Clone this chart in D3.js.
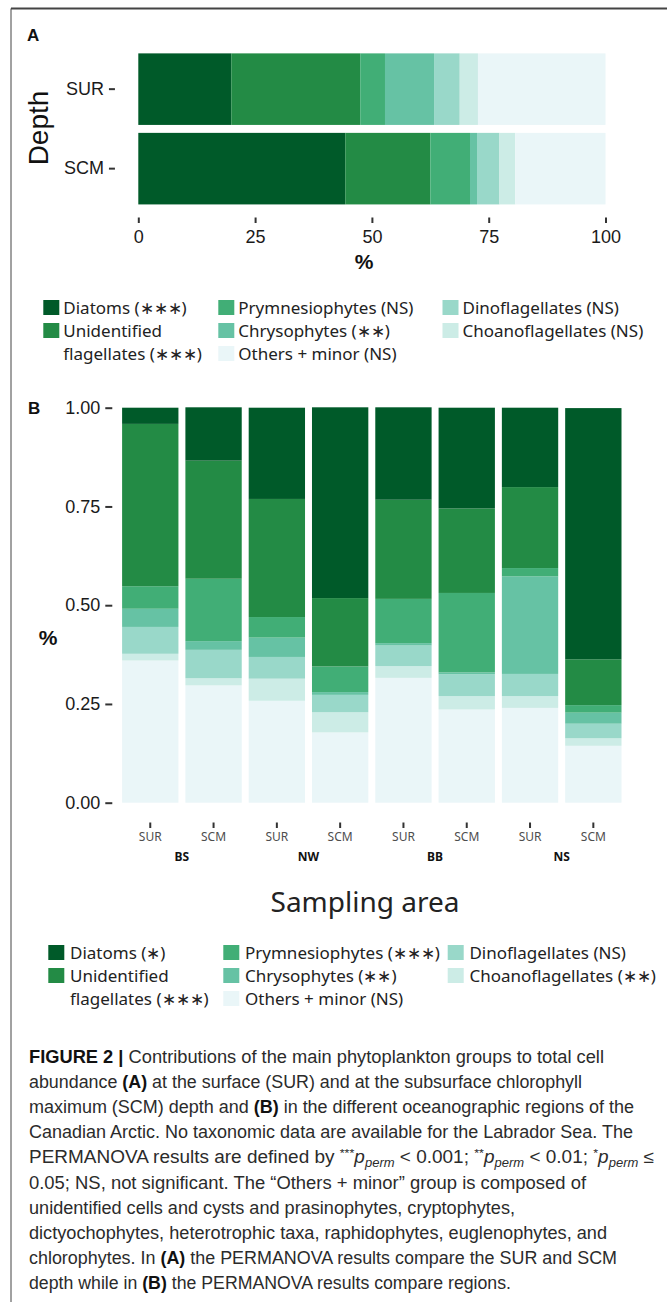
<!DOCTYPE html>
<html><head><meta charset="utf-8">
<script src="https://cdn.jsdelivr.net/npm/d3@7"></script>
<style>
html,body{margin:0;padding:0;background:#fff;}
svg{display:block;}
</style></head>
<body>
<svg id="c" width="667" height="1302"></svg>
<script>
// ---------- DATA ----------
const groups = ["Diatoms","Unidentified flagellates","Prymnesiophytes","Chrysophytes","Dinoflagellates","Choanoflagellates","Others + minor"];
const groupColors = ["#005a29","#238b45","#41ae76","#66c2a4","#99d8c9","#ccece6","#eaf6f8"];

// Panel A (percent of cells), categories by depth
const depthCats = ["SUR","SCM"];
const aDiatoms  = [19.9, 44.3];
const aUnid     = [27.6, 18.2];
const aPrym     = [5.3, 8.5];
const aChryso   = [10.5, 1.5];
const aDino     = [5.5, 4.8];
const aChoano   = [3.9, 3.4];
const aOthers   = [27.3, 19.3];
const aTicks    = [0, 25, 50, 75, 100];

// Panel B (fraction of cells), categories by region x depth
const regions   = ["BS","NW","BB","NS"];
const bDepths   = ["SUR","SCM","SUR","SCM","SUR","SCM","SUR","SCM"];
const bRegion   = ["BS","BS","NW","NW","BB","BB","NS","NS"];
const bDiatoms  = [0.041,0.135,0.231,0.483,0.234,0.255,0.201,0.636];
const bUnid     = [0.411,0.299,0.299,0.173,0.251,0.214,0.205,0.116];
const bPrym     = [0.057,0.158,0.052,0.065,0.112,0.201,0.021,0.019];
const bChryso   = [0.046,0.022,0.049,0.007,0.006,0.005,0.247,0.028];
const bDino     = [0.068,0.072,0.055,0.044,0.052,0.055,0.056,0.037];
const bChoano   = [0.017,0.018,0.056,0.051,0.030,0.034,0.030,0.019];
const bOthers   = [0.360,0.297,0.258,0.178,0.316,0.236,0.240,0.144];
const bTicks    = [0, 0.25, 0.5, 0.75, 1];

const ST = "\u2217";
const legendA = ["Diatoms ("+ST+ST+ST+")", "Unidentified|flagellates ("+ST+ST+ST+")", "Prymnesiophytes (NS)", "Chrysophytes ("+ST+ST+")", "Others + minor (NS)", "Dinoflagellates (NS)", "Choanoflagellates (NS)"];
const legendB = ["Diatoms ("+ST+")", "Unidentified|flagellates ("+ST+ST+ST+")", "Prymnesiophytes ("+ST+ST+ST+")", "Chrysophytes ("+ST+ST+")", "Others + minor (NS)", "Dinoflagellates (NS)", "Choanoflagellates ("+ST+ST+")"];
const legendOrder = [0,1,2,3,6,4,5]; // group index for each legend entry
const legendColCounts = [2,3,2];

// ---------- DRAW ----------
const svg = d3.select("#c");
const AX = "'Liberation Sans', Arial, sans-serif";
const NS = "'Noto Sans', 'Open Sans', sans-serif";
svg.append("rect").attr("width",667).attr("height",1302).attr("fill","#fff");

// frame
svg.append("line").attr("x1",11).attr("x2",667).attr("y1",8.5).attr("y2",8.5).attr("stroke","#444").attr("stroke-width",2);
svg.append("line").attr("x1",11).attr("x2",11).attr("y1",8.5).attr("y2",1302).attr("stroke","#444").attr("stroke-width",1);

// ===== Panel A =====
const aSeries = [aDiatoms,aUnid,aPrym,aChryso,aDino,aChoano,aOthers];
const aRows = depthCats.map((d,i)=>{const o={cat:d}; groups.forEach((g,k)=>o[g]=aSeries[k][i]); return o;});
const aStack = d3.stack().keys(groups)(aRows);
const xA = d3.scaleLinear().domain([0,100]).range([138.3,605.5]);
const yA = d3.scaleBand().domain(depthCats).range([49.4,208.4]).paddingInner(0.1).paddingOuter(0.05);

svg.append("text").attr("x",27).attr("y",41).attr("font-family",AX).attr("font-weight","bold").attr("font-size",17).attr("fill","#111").text("A");

const gA = svg.append("g");
gA.selectAll("g.s").data(aStack).join("g").attr("class","s").attr("fill",(d,i)=>groupColors[i])
  .selectAll("rect").data(d=>d).join("rect")
  .attr("x",d=>xA(d[0])).attr("width",d=>xA(d[1])-xA(d[0]))
  .attr("y",d=>yA(d.data.cat)).attr("height",yA.bandwidth());

// y axis A
const panelLeftA = xA(-5);
const yAxA = svg.append("g").attr("transform",`translate(${panelLeftA},0)`)
  .call(d3.axisLeft(yA).tickSize(6).tickPadding(5));
yAxA.select(".domain").remove();
yAxA.selectAll(".tick line").attr("stroke","#333").attr("stroke-width",2);
yAxA.selectAll(".tick text").attr("font-family",AX).attr("font-size",18).attr("fill","#1a1a1a");

// x axis A
const xAxA = svg.append("g").attr("transform","translate(0,217.5)")
  .call(d3.axisBottom(xA).tickValues(aTicks).tickSize(5.5).tickPadding(7).tickFormat(d3.format("d")));
xAxA.select(".domain").remove();
xAxA.selectAll(".tick line").attr("stroke","#333").attr("stroke-width",2);
xAxA.selectAll(".tick text").attr("font-family",AX).attr("font-size",18).attr("fill","#1a1a1a");

svg.append("text").attr("x",364).attr("y",269).attr("text-anchor","middle").attr("font-family",AX).attr("font-weight","bold").attr("font-size",21).attr("fill","#111").text("%");
svg.append("text").attr("transform","translate(48,128) rotate(-90)").attr("text-anchor","middle").attr("font-family",AX).attr("font-size",28).attr("fill","#111").text("Depth");

// legends
function drawLegend(labels, cfg){
  let idx = 0;
  legendColCounts.forEach((cnt,c)=>{
    for(let r=0;r<cnt;r++){
      const k = legendOrder[idx];
      const lab = labels[idx];
      const baseY = cfg.y0 + r*cfg.step;
      svg.append("rect").attr("x",cfg.cols[c]).attr("y",baseY-cfg.sqOff).attr("width",16).attr("height",15).attr("fill",groupColors[k]);
      const lines = lab.split("|");
      lines.forEach((ln,j)=>{
        svg.append("text").attr("x",cfg.cols[c]+cfg.tx).attr("y",baseY + j*cfg.step)
          .attr("font-family",NS).attr("font-size",cfg.fs).attr("fill","#222").text(ln);
      });
      idx++;
    }
  });
}
drawLegend(legendA,{y0:314,step:23,cols:[43.3,218.3,442.5],tx:20,sqOff:14,fs:17});

// ===== Panel B =====
const bSeries = [bDiatoms,bUnid,bPrym,bChryso,bDino,bChoano,bOthers];
const bCats = bDepths.map((d,i)=>bRegion[i]+" "+d);
const bRows = bCats.map((c,i)=>{const o={cat:c}; groups.forEach((g,k)=>o[g]=bSeries[k][i]); return o;});
const bKeys = groups.slice().reverse();
const bStack = d3.stack().keys(bKeys)(bRows);
const xB = d3.scaleBand().domain(bCats).range([122.1,621.5]).paddingInner(0.11).paddingOuter(0);
const yB = d3.scaleLinear().domain([0,1]).range([802.7,407.7]);

svg.append("text").attr("x",28).attr("y",414).attr("font-family",AX).attr("font-weight","bold").attr("font-size",17).attr("fill","#111").text("B");

svg.append("g").selectAll("g.s").data(bStack).join("g").attr("class","s")
  .attr("fill",d=>groupColors[groups.indexOf(d.key)])
  .selectAll("rect").data(d=>d).join("rect")
  .attr("x",d=>xB(d.data.cat)).attr("width",xB.bandwidth())
  .attr("y",d=>yB(d[1])).attr("height",d=>yB(d[0])-yB(d[1]));

const panelLeftB = xB(bCats[0]) + xB.bandwidth()/2 - 0.6*xB.step();
const yAxB = svg.append("g").attr("transform",`translate(${panelLeftB},0)`)
  .call(d3.axisLeft(yB).tickValues(bTicks).tickSize(7).tickPadding(5).tickFormat(d3.format(".2f")));
yAxB.select(".domain").remove();
yAxB.selectAll(".tick line").attr("stroke","#333").attr("stroke-width",2);
yAxB.selectAll(".tick text").attr("font-family",AX).attr("font-size",18).attr("fill","#1a1a1a");

const xAxB = svg.append("g").attr("transform","translate(0,822.5)")
  .call(d3.axisBottom(xB).tickSize(5.5).tickPadding(4).tickFormat((d,i)=>bDepths[i]));
xAxB.select(".domain").remove();
xAxB.selectAll(".tick line").attr("stroke","#333").attr("stroke-width",2);
xAxB.selectAll(".tick text").attr("font-family",NS).attr("font-size",12).attr("fill","#4d4d4d");

regions.forEach(r=>{
  const cats = bCats.filter(c=>c.startsWith(r+" "));
  const cx = d3.mean(cats, c=>xB(c)+xB.bandwidth()/2);
  svg.append("text").attr("x",cx).attr("y",861).attr("text-anchor","middle").attr("font-family",NS).attr("font-weight","bold").attr("font-size",12).attr("fill","#111").text(r);
});

svg.append("text").attr("x",48).attr("y",645).attr("text-anchor","middle").attr("font-family",AX).attr("font-weight","bold").attr("font-size",21).attr("fill","#111").text("%");
svg.append("text").attr("x",365).attr("y",912).attr("text-anchor","middle").attr("font-family",NS).attr("font-size",28).attr("fill","#222").text("Sampling area");

drawLegend(legendB,{y0:959,step:23,cols:[48.3,223.3,447.7],tx:21.7,sqOff:14,fs:17});

// ===== Caption =====
const cap = svg.append("g").attr("font-family",AX).attr("font-size",17.5).attr("fill","#2b2b2b");
const capLines = [
  [["b","FIGURE 2 | "],["n","Contributions of the main phytoplankton groups to total cell"]],
  [["n","abundance "],["b","(A)"],["n"," at the surface (SUR) and at the subsurface chlorophyll"]],
  [["n","maximum (SCM) depth and "],["b","(B)"],["n"," in the different oceanographic regions of the"]],
  [["n","Canadian Arctic. No taxonomic data are available for the Labrador Sea. The"]],
  [["n","PERMANOVA results are defined by "],["sup","***"],["i","p"],["sub","perm"],["n"," < 0.001; "],["sup","**"],["i","p"],["sub","perm"],["n"," < 0.01; "],["sup","*"],["i","p"],["sub","perm"],["n"," \u2264"]],
  [["n","0.05; NS, not significant. The \u201cOthers + minor\u201d group is composed of"]],
  [["n","unidentified cells and cysts and prasinophytes, cryptophytes,"]],
  [["n","dictyochophytes, heterotrophic taxa, raphidophytes, euglenophytes, and"]],
  [["n","chlorophytes. In "],["b","(A)"],["n"," the PERMANOVA results compare the SUR and SCM"]],
  [["n","depth while in "],["b","(B)"],["n"," the PERMANOVA results compare regions."]]
];
// right edge of each justified-looking caption line in the reference layout
const capLineEnds = [604, 582, 634, 633, 654, 586, 515, 607, 617, 511];
const capX = 29;
capLines.forEach((segs,i)=>{
  const t = cap.append("text").attr("x",capX).attr("y",1063 + i*25.1);
  let off = 0;
  segs.forEach(([k,s])=>{
    const ts = t.append("tspan").text(s);
    let want = 0;
    if(k==="b") ts.attr("font-weight","bold").attr("fill","#111");
    if(k==="i") ts.attr("font-style","italic");
    if(k==="sup"){ ts.attr("font-size",11.5); want = -6; }
    if(k==="sub"){ ts.attr("font-size",12).attr("font-style","italic"); want = 4; }
    if(want !== off){ ts.attr("dy", want - off); off = want; }
  });
  const w = t.node().getComputedTextLength();
  const target = capLineEnds[i] - capX;
  if (Math.abs(target - w) > 2) {
    t.attr("textLength", target).attr("lengthAdjust","spacingAndGlyphs");
  }
});
</script>
</body></html>
